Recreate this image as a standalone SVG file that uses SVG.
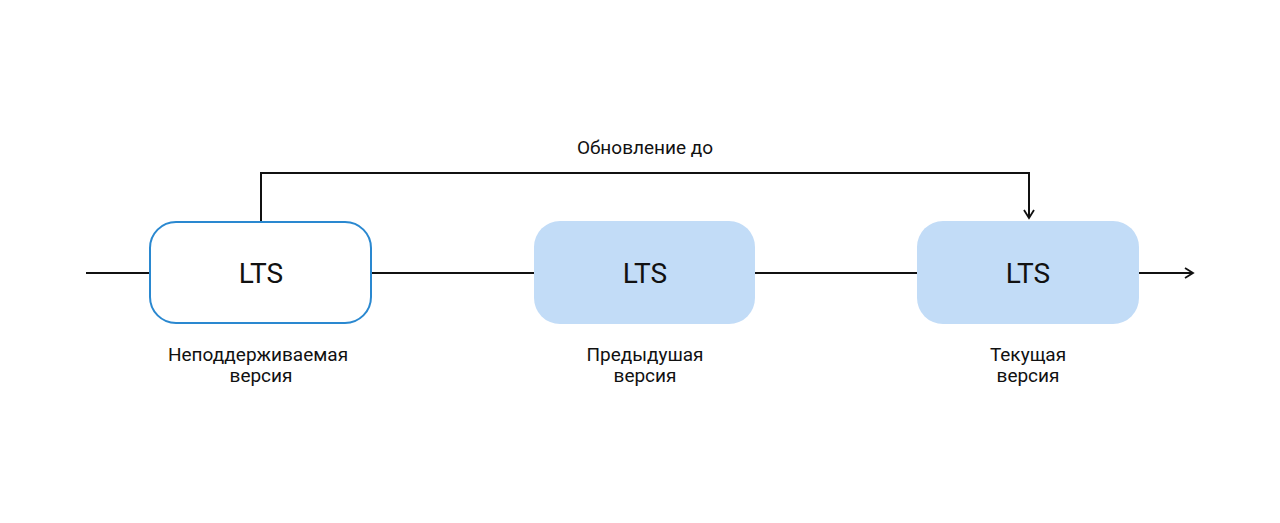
<svg xmlns="http://www.w3.org/2000/svg" width="1280" height="523" viewBox="0 0 1280 523">
<style>
.l{stroke:#111;stroke-width:2;fill:none}
.t{font-family:Roboto,"Liberation Sans",sans-serif;fill:#111;text-anchor:middle}
.big{font-size:28px}
.sm{font-size:19px}
</style>
<defs><marker id="a" viewBox="0 0 12 12" refX="10" refY="6" markerWidth="12" markerHeight="12" markerUnits="userSpaceOnUse" orient="auto"><path d="M2 1 L10 6 L2 11" fill="none" stroke="#111" stroke-width="1.8"/></marker></defs>
<rect width="1280" height="523" fill="#fff"/>
<g id="connectors">
<line class="l" x1="86" y1="273" x2="150" y2="273"/>
<line class="l" x1="371" y1="273" x2="534" y2="273"/>
<line class="l" x1="755" y1="273" x2="917" y2="273"/>
<line class="l" x1="1139" y1="273" x2="1193" y2="273" marker-end="url(#a)"/>
<path class="l" d="M261 222 V173 H1029 V218" marker-end="url(#a)"/>
<text class="t sm" x="645" y="154">Обновление до</text>
</g>
<g id="n1"><rect x="150" y="222" width="221" height="101" rx="26" fill="#fff" stroke="#2a88d0" stroke-width="2"/><text class="t big" x="261" y="283">LTS</text><text class="t sm" x="258" y="361">Неподдерживаемая</text><text class="t sm" x="261" y="382">версия</text></g>
<g id="n2"><rect x="534" y="221" width="221" height="103" rx="26" fill="#c2dcf7"/><text class="t big" x="645" y="283">LTS</text><text class="t sm" x="645" y="361">Предыдушая</text><text class="t sm" x="645" y="382">версия</text></g>
<g id="n3"><rect x="917" y="221" width="222" height="103" rx="26" fill="#c2dcf7"/><text class="t big" x="1028" y="283">LTS</text><text class="t sm" x="1028" y="361">Текущая</text><text class="t sm" x="1028" y="382">версия</text></g>
</svg>
